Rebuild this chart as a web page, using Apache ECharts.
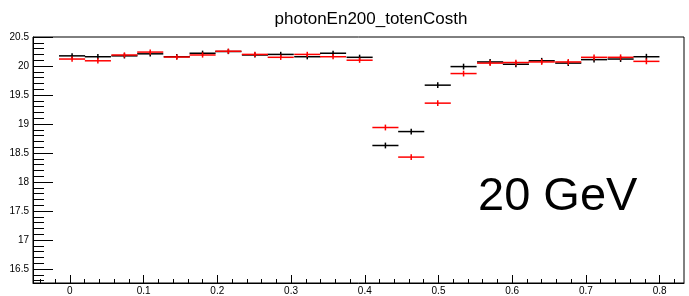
<!DOCTYPE html>
<html>
<head>
<meta charset="utf-8">
<script src="https://cdn.jsdelivr.net/npm/echarts@6/dist/echarts.min.js"></script>
<style>
  html, body { margin: 0; padding: 0; background: #fff; }
  #chart { width: 689px; height: 296px; }
</style>
</head>
<body>
<div id="chart"></div>
<script>
// bin centres (cos theta) and common bin width
const binCenters = [0.003, 0.038, 0.074, 0.109, 0.145, 0.180, 0.215, 0.251, 0.286, 0.322, 0.357, 0.393,
                    0.428, 0.463, 0.499, 0.534, 0.570, 0.605, 0.640, 0.676, 0.711, 0.747, 0.782];
const binWidth = 0.0354;

const blackValues = [20.175, 20.16, 20.175, 20.21, 20.16, 20.22, 20.25, 20.19, 20.2, 20.16, 20.22, 20.15,
                     18.63, 18.87, 19.67, 19.99, 20.07, 20.03, 20.09, 20.05, 20.11, 20.12, 20.16];
const blackErrors = [0.045, 0.045, 0.045, 0.045, 0.045, 0.045, 0.045, 0.045, 0.045, 0.045, 0.045, 0.045,
                     0.05, 0.05, 0.05, 0.05, 0.05, 0.05, 0.05, 0.05, 0.05, 0.05, 0.05];
const redValues = [20.12, 20.09, 20.19, 20.24, 20.155, 20.19, 20.255, 20.2, 20.15, 20.2, 20.16, 20.1,
                   18.94, 18.43, 19.36, 19.87, 20.05, 20.06, 20.07, 20.07, 20.15, 20.15, 20.08];
const redErrors = [0.045, 0.045, 0.045, 0.045, 0.045, 0.045, 0.045, 0.045, 0.045, 0.045, 0.045, 0.045,
                   0.05, 0.05, 0.05, 0.05, 0.05, 0.05, 0.05, 0.05, 0.05, 0.05, 0.05];

const xMajorTicks = [0, 0.1, 0.2, 0.3, 0.4, 0.5, 0.6, 0.7, 0.8];
const yMajorTicks = [16.5, 17, 17.5, 18, 18.5, 19, 19.5, 20, 20.5];

const X_MIN = -0.05, X_MAX = 0.833;
const Y_MIN = 16.26, Y_MAX = 20.5;

// minor ticks: 0.02 on x, 0.1 on y
const xMinorTicks = [];
for (let i = -2; i <= 41; i++) {
    if (i % 5 !== 0) xMinorTicks.push(+(i * 0.02).toFixed(2));
}
const yMinorTicks = [];
for (let i = 163; i <= 205; i++) {
    if (i % 5 !== 0) yMinorTicks.push(+(i * 0.1).toFixed(1));
}

const FONT = "Liberation Sans, Arial, Helvetica, sans-serif";

function histSeries(values, errors, color) {
    return {
        type: "custom",
        xAxisIndex: 0,
        yAxisIndex: 0,
        data: values.map((v, i) => [binCenters[i], v, errors[i]]),
        renderItem: (params, api) => {
            const c = api.value(0), y = api.value(1), e = api.value(2);
            const left = api.coord([c - binWidth / 2, y]);
            const right = api.coord([c + binWidth / 2, y]);
            const lo = api.coord([c, y - e]);
            const hi = api.coord([c, y + e]);
            const style = { stroke: color, lineWidth: 1.5 };
            return {
                type: "group",
                children: [
                    { type: "line", shape: { x1: left[0], y1: left[1], x2: right[0], y2: right[1] }, style },
                    { type: "line", shape: { x1: lo[0], y1: lo[1], x2: hi[0], y2: hi[1] }, style },
                ],
            };
        },
        silent: true,
        z: 3,
    };
}

const chart = echarts.init(document.getElementById("chart"), null, { renderer: "canvas" });

chart.setOption({
    animation: false,
    backgroundColor: "#fff",
    grid: {
        left: 33, right: 5, top: 37, bottom: 12,
        show: true, borderColor: "#000", borderWidth: 1,
    },
    xAxis: [
        {
            type: "value", min: X_MIN, max: X_MAX,
            axisLine: { show: true, onZero: false, lineStyle: { color: "#000", width: 1 } },
            axisTick: { show: true, inside: true, length: 8, customValues: xMajorTicks, lineStyle: { color: "#000" } },
            axisLabel: { customValues: xMajorTicks, color: "#000", fontFamily: FONT, fontSize: 10, margin: 3 },
            splitLine: { show: false },
        },
        {
            type: "value", min: X_MIN, max: X_MAX, position: "bottom",
            axisLine: { show: false, onZero: false },
            axisTick: { show: true, inside: true, length: 4, customValues: xMinorTicks, lineStyle: { color: "#000" } },
            axisLabel: { show: false },
            splitLine: { show: false },
        },
    ],
    yAxis: [
        {
            type: "value", min: Y_MIN, max: Y_MAX,
            axisLine: { show: true, onZero: false, lineStyle: { color: "#000", width: 1 } },
            axisTick: { show: true, inside: true, length: 20, customValues: yMajorTicks, lineStyle: { color: "#000" } },
            axisLabel: { customValues: yMajorTicks, color: "#000", fontFamily: FONT, fontSize: 10, margin: 4 },
            splitLine: { show: false },
        },
        {
            type: "value", min: Y_MIN, max: Y_MAX, position: "left",
            axisLine: { show: false, onZero: false },
            axisTick: { show: true, inside: true, length: 11, customValues: yMinorTicks, lineStyle: { color: "#000" } },
            axisLabel: { show: false },
            splitLine: { show: false },
        },
    ],
    graphic: [
        {
            type: "text", x: 371, y: 19,
            style: {
                text: "photonEn200_totenCosth", font: "17px " + FONT, fill: "#000",
                textAlign: "center", textVerticalAlign: "middle",
            },
        },
        {
            type: "text", x: 478, y: 221,
            style: { text: "20 GeV", font: "47px " + FONT, fill: "#000", textVerticalAlign: "bottom" },
        },
    ],
    series: [
        histSeries(blackValues, blackErrors, "#000"),
        histSeries(redValues, redErrors, "#ff0000"),
    ],
});
</script>
</body>
</html>
